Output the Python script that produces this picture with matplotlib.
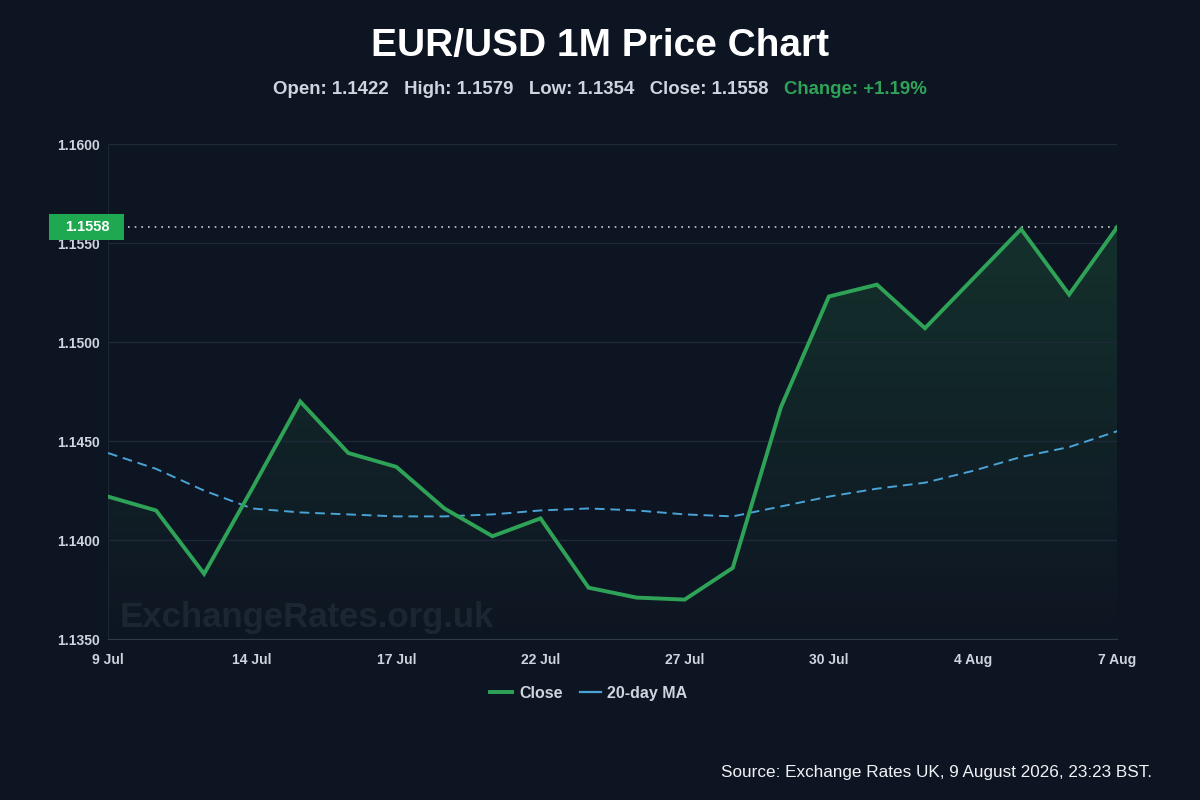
import numpy as np
import matplotlib
matplotlib.use("Agg")
import matplotlib.pyplot as plt
from matplotlib.lines import Line2D
from matplotlib.patches import Rectangle

# EUR/USD daily closes, 9 Jul - 7 Aug (business days)
dates = ["9 Jul", "10 Jul", "13 Jul", "14 Jul", "15 Jul", "16 Jul", "17 Jul", "20 Jul",
         "21 Jul", "22 Jul", "23 Jul", "24 Jul", "27 Jul", "28 Jul", "29 Jul", "30 Jul",
         "31 Jul", "3 Aug", "4 Aug", "5 Aug", "6 Aug", "7 Aug"]
close = [1.1422, 1.1415, 1.1383, 1.1426, 1.1470, 1.1444, 1.1437, 1.1416,
         1.1402, 1.1411, 1.1376, 1.1371, 1.1370, 1.1386, 1.1467, 1.1523,
         1.1529, 1.1507, 1.1532, 1.1557, 1.1524, 1.1558]
ma20 = [1.1444, 1.1436, 1.1425, 1.1416, 1.1414, 1.1413, 1.1412, 1.1412,
        1.1413, 1.1415, 1.1416, 1.1415, 1.1413, 1.1412, 1.1417, 1.1422,
        1.1426, 1.1429, 1.1435, 1.1442, 1.1447, 1.1455]
tick_idx = [0, 3, 6, 9, 12, 15, 18, 21]
yticks = [1.1350, 1.1400, 1.1450, 1.1500, 1.1550, 1.1600]

stats = [("Open", "1.1422"), ("High", "1.1579"), ("Low", "1.1354"), ("Close", "1.1558")]
change = "+1.19%"

BG = "#0e1522"
GREEN = "#2ea357"
BLUE = "#4aa3d6"
TXT = "#cdd5df"

plt.rcParams["font.family"] = ["Liberation Sans", "DejaVu Sans"]

fig = plt.figure(figsize=(12, 8), dpi=100, facecolor=BG)
ax = fig.add_axes([0.09, 0.201, 0.841, 0.619])
ax.set_facecolor(BG)

x = np.arange(len(close))
y0, y1 = 1.1350, 1.1600

# gradient fill under close line
grad = np.linspace(0.0, 1.0, 256).reshape(-1, 1)
cmap = matplotlib.colors.LinearSegmentedColormap.from_list(
    "g", [(0, (0.18, 0.64, 0.34, 0.0)), (1, (0.18, 0.64, 0.34, 0.2))])
img = ax.imshow(grad, aspect="auto", cmap=cmap, origin="lower",
                extent=[x[0], x[-1], y0, max(close)], zorder=1)
poly = ax.fill_between(x, close, y0, color="none")
clip = poly.get_paths()[0]
img.set_clip_path(clip, transform=ax.transData)

ax.plot(x, close, color=GREEN, lw=2.8, zorder=4, solid_joinstyle="miter")
ax.plot(x, ma20, color=BLUE, lw=1.4, ls=(0, (5, 3)), zorder=3)

ax.set_xlim(x[0], x[-1])
ax.set_ylim(y0, y1)
ax.set_yticks(yticks)
ax.set_yticklabels([f"{v:.4f}" for v in yticks])
ax.set_xticks(tick_idx)
ax.set_xticklabels([dates[i] for i in tick_idx])
ax.tick_params(colors=TXT, length=0, labelsize=10)
ax.tick_params(axis="x", pad=10)
ax.tick_params(axis="y", pad=6)
for lab in ax.get_xticklabels() + ax.get_yticklabels():
    lab.set_fontweight("bold")
ax.grid(axis="y", color="#1f2836", lw=1)
for s in ["top", "right"]:
    ax.spines[s].set_visible(False)
ax.spines["left"].set_color("#1c2533")
ax.spines["bottom"].set_color("#2f3949")

# last price line and tag
last = close[-1]
ax.axhline(last, color="#c8ced6", lw=1.2, ls=(0, (1, 3)), zorder=2)
fig.canvas.draw()
_, ty = fig.transFigure.inverted().transform(ax.transData.transform((0, last)))
tag_h = 26 / 800
fig.patches.append(Rectangle((49 / 1200, ty - tag_h / 2), 75 / 1200, tag_h,
                             transform=fig.transFigure, fc="#1ea84f", ec="none", zorder=6))
fig.text(87 / 1200, ty, f"{last:.4f}", ha="center", va="center", color="white",
         fontsize=10.5, fontweight="bold", zorder=7)

# watermark
ax.text(0.012, 0.043, "ExchangeRates.org.uk", transform=ax.transAxes,
        fontsize=25, fontweight="bold", color="#1c2532", ha="left", va="center", zorder=0)

# title and stats line
fig.text(0.5, 0.943, "EUR/USD 1M Price Chart", ha="center", va="center",
         color="white", fontsize=28, fontweight="bold")
parts = [f"{k}: {v}" for k, v in stats]
stat_str = "   ".join(parts) + "   "
full = stat_str + f"Change: {change}"
FS = 13.4
t1 = fig.text(0.5, 0.888, full, ha="center", va="center", fontsize=FS,
              fontweight="bold", color=BG)
fig.canvas.draw()
bb = t1.get_window_extent()
t1.set_visible(False)
ta = fig.text(bb.x0 / 1200, 0.888, stat_str, ha="left", va="center", fontsize=FS,
              fontweight="bold", color=TXT)
fig.canvas.draw()
bb2 = ta.get_window_extent()
fig.text(bb2.x1 / 1200, 0.888, f"Change: {change}", ha="left", va="center",
         fontsize=FS, fontweight="bold", color=GREEN)

# legend, laid out by hand so both labels share a baseline
ly = 1 - 692 / 800
fig.lines.append(Line2D([490 / 1200, 512 / 1200], [ly, ly], transform=fig.transFigure,
                        color=GREEN, lw=2.8))
fig.text(519 / 1200, ly, "Close", ha="left", va="center_baseline", color=TXT,
         fontsize=11.5, fontweight="bold")
fig.lines.append(Line2D([580 / 1200, 601 / 1200], [ly, ly], transform=fig.transFigure,
                        color=BLUE, lw=1.6))
fig.text(607 / 1200, ly, "20-day MA", ha="left", va="center_baseline", color=TXT,
         fontsize=11.5, fontweight="bold")

fig.text(0.96, 0.035, "Source: Exchange Rates UK, 9 August 2026, 23:23 BST.",
         ha="right", va="center", color="#f0f3f6", fontsize=12.3)

fig.savefig("out.png", dpi=100, facecolor=BG)
